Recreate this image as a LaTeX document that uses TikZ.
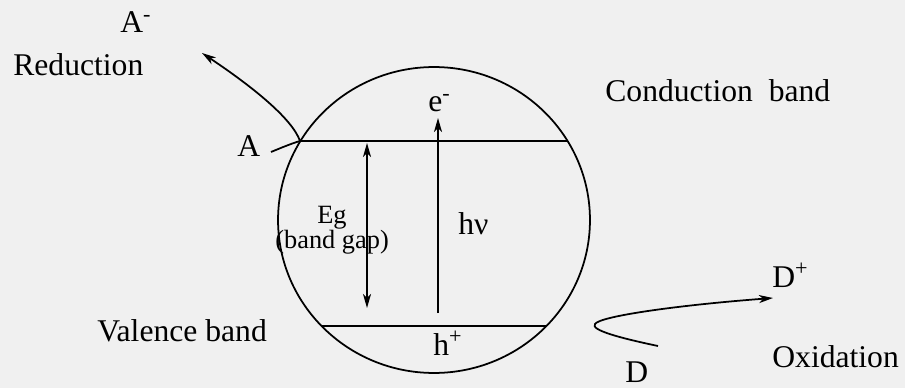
\documentclass[tikz,border=0pt]{standalone}
\usepackage{fontspec}
\setmainfont{Liberation Serif}
\usetikzlibrary{arrows.meta,shapes.geometric}
\definecolor{bgcol}{RGB}{240,240,240}
\begin{document}
\begin{tikzpicture}[x=0.02cm,y=-0.02cm,
  lbl/.style={inner sep=0, anchor=base west, font=\fontsize{18}{20}\selectfont},
  small/.style={lbl, font=\fontsize{15}{17}\selectfont},
  ln/.style={line width=1pt, draw=black},
  tip/.tip={Stealth[length=0.28cm,width=0.16cm,inset=0.08cm]},
  arr/.style={ln, -tip},
  darr/.style={ln, tip-tip}]
\fill[bgcol] (0,0) rectangle (905,388);
\useasboundingbox (0,0) rectangle (905,388);
% particle
\node[ellipse, draw, line width=1pt, minimum width=6.24cm, minimum height=6.12cm,
      inner sep=0, outer sep=0] (particle) at (434,220) {};
% bands
\coordinate (cbL) at (300,141); \coordinate (cbR) at (568,141);
\coordinate (vbL) at (321,326); \coordinate (vbR) at (547,326);
\draw[ln] (cbL) -- (cbR);
\draw[ln] (vbL) -- (vbR);
% band gap arrow
\coordinate (egT) at (367,143); \coordinate (egB) at (367,308);
\draw[darr] (egT) -- (egB);
% excitation arrow
\coordinate (hvB) at (438,313); \coordinate (hvT) at (438,118);
\draw[arr] (hvB) -- (hvT);
% labels
\node[lbl] (Aminus) at (120,33) {A\textsuperscript{-}};
\node[lbl] (red) at (13,76) {Reduction};
\node[lbl] (A) at (237,157) {A};
\node[lbl] (em) at (428,112) {e\textsuperscript{-}};
\node[lbl] (cb) at (605,102) {Conduction\ \ band};
\node[small] (eg) at (317,223) {Eg};
\node[small] (bg) at (275,248) {(band gap)};
\node[lbl] (hv) at (458,235) {hν};
\node[lbl] (hp) at (433,355) {h\textsuperscript{+}};
\node[lbl] (vb) at (97,341) {Valence band};
\node[lbl] (Dplus) at (772,287) {D\textsuperscript{+}};
\node[lbl] (ox) at (772,367) {Oxidation};
\node[lbl] (D) at (625,382) {D};
% reduction path
\coordinate (redS) at (271,152);
\draw[ln] (redS) .. controls (283,147) and (293,143) .. (cbL);
\coordinate (redE) at (202,53);
\draw[arr] (cbL) .. controls (292,118) and (250,85) .. (redE);
% oxidation path
\coordinate (oxS) at (658,346); \coordinate (oxM) at (595,324);
\coordinate (oxE) at (773,298);
\draw[arr] (oxS) .. controls (620,338) and (590,330) .. (oxM)
  .. controls (600,316) and (680,305) .. (oxE);
\end{tikzpicture}
\end{document}
